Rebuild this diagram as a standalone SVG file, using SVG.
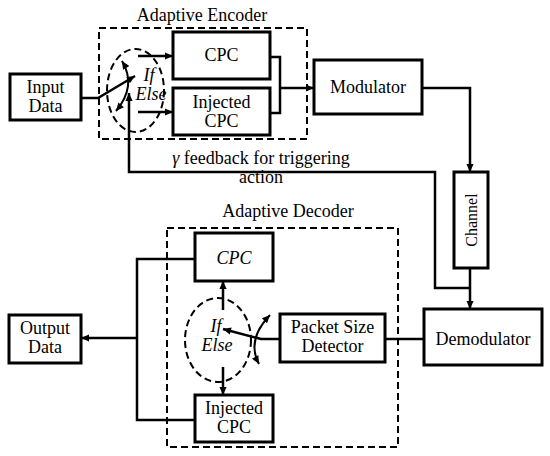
<svg xmlns="http://www.w3.org/2000/svg" width="550" height="456" viewBox="0 0 550 456">
<defs>
<marker id="ah" viewBox="0 0 10 10" refX="10" refY="5" markerWidth="9" markerHeight="8" markerUnits="userSpaceOnUse" orient="auto-start-reverse"><path d="M0,0.5 L10,5 L0,9.5 z" fill="#000"/></marker>
</defs>
<style>
.box{fill:#fff;stroke:#000;stroke-width:3}
.dash{fill:none;stroke:#000;stroke-width:2;stroke-dasharray:7 4}
.ln{fill:none;stroke:#000;stroke-width:2.5}
.arr{fill:none;stroke:#000;stroke-width:2.5;marker-end:url(#ah)}
.arc{fill:none;stroke:#000;stroke-width:2;marker-start:url(#ah);marker-end:url(#ah)}
text{font-family:"Liberation Serif","Times New Roman",serif;font-size:18px;fill:#000;text-anchor:middle}
.it{font-style:italic}
</style>
<rect width="550" height="456" fill="#fff"/>

<g id="encoder-frame">
<rect class="dash" x="99" y="28" width="208" height="111"/>
<text x="202" y="21">Adaptive Encoder</text>
<ellipse class="dash" cx="135.5" cy="90.5" rx="28.5" ry="41.5"/>
<text class="it" x="149" y="81">If</text>
<text class="it" x="151" y="100">Else</text>
</g>
<g id="decoder-frame">
<rect class="dash" x="167" y="228" width="231" height="219"/>
<text x="288" y="217">Adaptive Decoder</text>
<ellipse class="dash" cx="218" cy="340" rx="33" ry="42"/>
<text class="it" x="216" y="332">If</text>
<text class="it" x="217" y="351">Else</text>
</g>

<g id="connectors">
<path class="arr" d="M81,98 H98 L135,76"/>
<path class="arc" d="M122,61 Q137,86 116,111"/>
<path class="arr" d="M138,56 H173"/>
<path class="arr" d="M138,112 H173"/>
<path class="ln" d="M270,57 H280 V113 H270"/>
<path class="arr" d="M280,88 H314"/>
<path class="arr" d="M422,88 H470 V172"/>
<path class="arr" d="M470,268 V309"/>
<path class="arr" d="M470,288 H435 V172 H129 V93"/>
<path class="ln" d="M385,339 H424"/>
<path class="arr" d="M280,339 H261 L223,329"/>
<path class="arc" d="M270,315 Q246,340 259,364"/>
<path class="arr" d="M223,310 V281"/>
<path class="arr" d="M223,367 V395"/>
<path class="ln" d="M195,259 H137 V420 H195"/>
<path class="arr" d="M137,338 H81"/>
<text x="261" y="164"><tspan class="it">γ</tspan> feedback for triggering</text>
<text x="261" y="183">action</text>
</g>

<g id="input-data">
<rect class="box" x="10" y="74" width="71" height="46"/>
<text x="45.5" y="93">Input</text>
<text x="45.5" y="112">Data</text>
</g>
<g id="enc-cpc">
<rect class="box" x="173" y="32" width="97" height="47"/>
<text x="221.5" y="61">CPC</text>
</g>
<g id="enc-injected-cpc">
<rect class="box" x="173" y="88" width="97" height="47"/>
<text x="221.5" y="108">Injected</text>
<text x="221.5" y="127">CPC</text>
</g>
<g id="modulator">
<rect class="box" x="314" y="60" width="108" height="54"/>
<text x="368" y="93">Modulator</text>
</g>
<g id="channel">
<rect class="box" x="454" y="172" width="34" height="96"/>
<text x="0" y="0" transform="translate(476.5,220) rotate(-90)" style="font-size:16px">Channel</text>
</g>
<g id="demodulator">
<rect class="box" x="424" y="309" width="118" height="56"/>
<text x="483" y="345">Demodulator</text>
</g>
<g id="packet-size-detector">
<rect class="box" x="280" y="314" width="105" height="48"/>
<text x="332.5" y="333">Packet Size</text>
<text x="332.5" y="352">Detector</text>
</g>
<g id="dec-cpc">
<rect class="box" x="195" y="233" width="78" height="48"/>
<text class="it" x="234" y="264">CPC</text>
</g>
<g id="dec-injected-cpc">
<rect class="box" x="195" y="395" width="78" height="47"/>
<text x="234" y="414">Injected</text>
<text x="234" y="433">CPC</text>
</g>
<g id="output-data">
<rect class="box" x="9" y="315" width="72" height="48"/>
<text x="45" y="334">Output</text>
<text x="45" y="353">Data</text>
</g>
</svg>
